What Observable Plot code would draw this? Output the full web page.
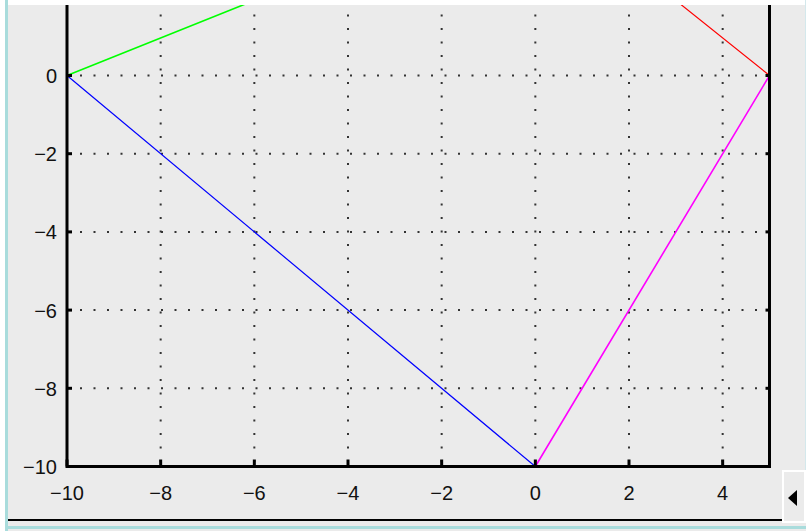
<!DOCTYPE html>
<html>
<head>
<meta charset="utf-8">
<script src="https://cdn.jsdelivr.net/npm/d3@7"></script>
<script src="https://cdn.jsdelivr.net/npm/@observablehq/plot@0.6"></script>
<style>
  html, body { margin: 0; padding: 0; }
  body { width: 806px; height: 531px; background: #ebebeb; position: relative; overflow: hidden; font-family: "Liberation Sans", sans-serif; }
  .abs { position: absolute; }
</style>
</head>
<body>
<div class="abs" style="left:0;top:0;width:806px;height:5px;background:#ffffff"></div>
<div class="abs" style="left:0;top:0;width:5px;height:531px;background:#ffffff"></div>
<div class="abs" style="left:5px;top:0;width:3px;height:531px;background:#a9dcdc"></div>
<div class="abs" style="left:805px;top:0;width:1px;height:470px;background:#d4e8ec"></div>
<div id="clip" class="abs" style="left:8px;top:5px;width:798px;height:514px;overflow:hidden">
  <div id="chart" class="abs" style="left:-8px;top:-155px"></div>
</div>
<div class="abs" style="left:8px;top:519px;width:774px;height:2px;background:#000"></div>
<div class="abs" style="left:8px;top:526px;width:798px;height:3px;background:#a9dcdc"></div>
<div class="abs" style="left:782px;top:470px;width:20px;height:49px;border:2px solid #ffffff;background:#ebebeb"></div>
<div class="abs" style="left:788px;top:490px;width:0;height:0;border-top:8px solid transparent;border-bottom:8px solid transparent;border-right:9px solid #000"></div>
<script>
// Tick values
const xTicks = [-10, -8, -6, -4, -2, 0, 2, 4];
const yTicks = [-10, -8, -6, -4, -2, 0, 2, 4];

// Series (x and y endpoints of each segment)
const greenX = [-10, 0];
const greenY = [0, 4.8];
const blueX = [-10, 0];
const blueY = [0, -10];
const magentaX = [0, 5];
const magentaY = [-10, 0];
const redX = [5, 0];
const redY = [0, 4.8];

const toRows = (xs, ys) => xs.map((x, i) => ({x, y: ys[i]}));

const gridStyle = {stroke: "#333", strokeOpacity: 1, strokeWidth: 2, strokeDasharray: "2,11.5"};
const font = "Liberation Sans, Arial, sans-serif";
const tickShape = {draw(context, l) { context.moveTo(0, 0); context.lineTo(0, -l); }};
const tickStyle = {shape: tickShape, anchor: "start", stroke: "#000", strokeWidth: 3, strokeLinecap: "butt"};

const plot = Plot.plot({
  width: 806,
  height: 681,
  marginLeft: 66.5,
  marginRight: 37,
  marginTop: 29.5,
  marginBottom: 65,
  style: {background: "transparent", maxWidth: "none", fontFamily: font, fontSize: "20px", color: "#111"},
  x: {domain: [-10, 5]},
  y: {domain: [-10, 5]},
  marks: [
    Plot.gridX(xTicks.filter(d => d !== -10), gridStyle),
    Plot.gridY(yTicks.filter(d => d !== -10), gridStyle),
    Plot.line(toRows(greenX, greenY), {x: "x", y: "y", stroke: "#00ff00", strokeWidth: 1.6}),
    Plot.line(toRows(blueX, blueY), {x: "x", y: "y", stroke: "#0000ff", strokeWidth: 1.2}),
    Plot.line(toRows(magentaX, magentaY), {x: "x", y: "y", stroke: "#ff00ff", strokeWidth: 1.6}),
    Plot.line(toRows(redX, redY), {x: "x", y: "y", stroke: "#ff0000", strokeWidth: 1.2}),
    Plot.frame({stroke: "#000", strokeWidth: 3}),
    // inward tick marks
    Plot.vector(xTicks, {x: d => d, frameAnchor: "bottom", length: 7, rotate: 0, ...tickStyle}),
    Plot.vector(yTicks, {y: d => d, frameAnchor: "left", length: 5, rotate: 90, ...tickStyle}),
    Plot.vector(yTicks, {y: d => d, frameAnchor: "right", length: 4, rotate: -90, ...tickStyle}),
    // tick labels
    Plot.axisX(xTicks, {anchor: "bottom", tickSize: 0, tickPadding: 19.5, fontSize: 20, fill: "#111", label: null}),
    Plot.axisY(yTicks, {anchor: "left", tickSize: 0, tickPadding: 10, fontSize: 20, fill: "#111", dy: 1, label: null})
  ]
});
document.getElementById("chart").appendChild(plot);
</script>
</body>
</html>
